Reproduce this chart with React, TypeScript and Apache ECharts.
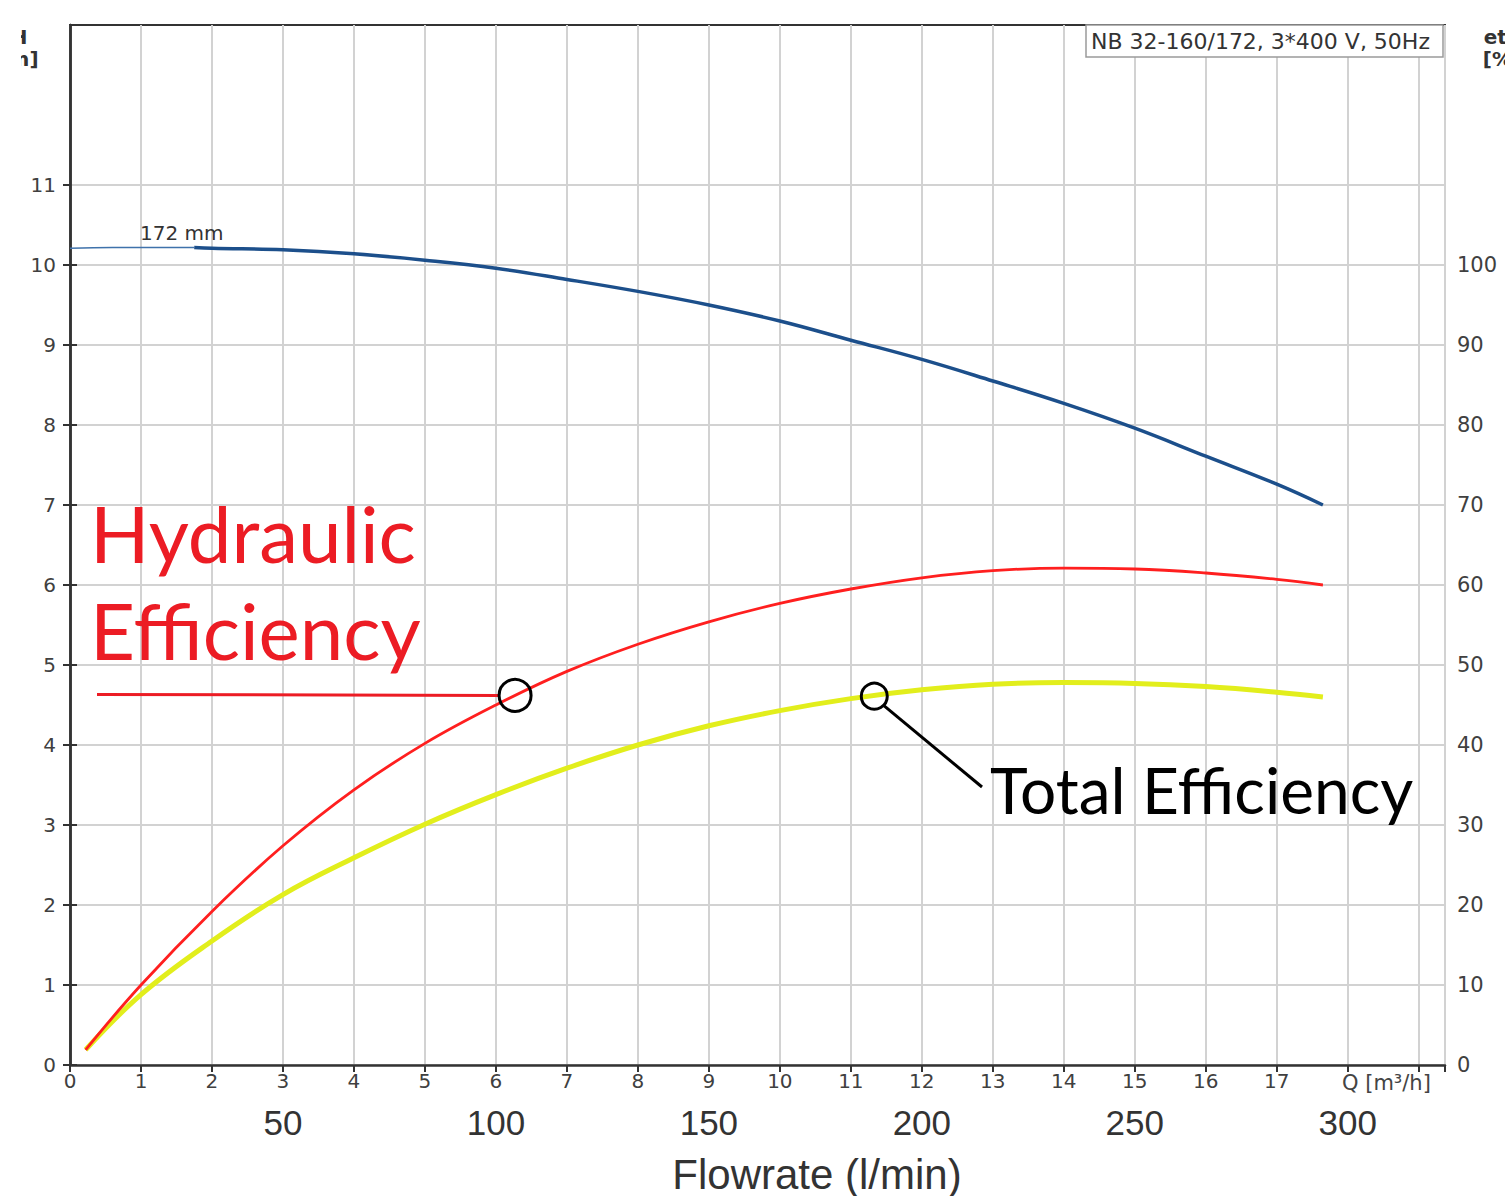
import React, { useEffect, useRef } from "react";
import * as echarts from "echarts";

// ---- data (flow in m³/h) ----
const headFlowThin = [0, 0.6, 1.2, 1.75];
const headThin = [10.21, 10.22, 10.22, 10.22];
const headFlow = [1.75, 2, 3, 4, 5, 6, 7, 8, 9, 10, 11, 12, 13, 14, 15, 16, 17, 17.65];
const headValues = [10.22, 10.21, 10.19, 10.14, 10.06, 9.96, 9.82, 9.67, 9.5, 9.3, 9.06, 8.82, 8.55, 8.27, 7.96, 7.61, 7.26, 7.0];
const effFlow = [0.22, 1, 2, 3, 4, 5, 6, 7, 8, 9, 10, 11, 12, 13, 14, 15, 16, 17, 17.65];
const hydraulicEff = [1.9, 10, 19.2, 27.4, 34.4, 40.2, 45, 49.2, 52.6, 55.4, 57.7, 59.5, 60.9, 61.8, 62.1, 62.0, 61.5, 60.7, 60];
const totalEff = [1.9, 8.8, 15.5, 21.3, 25.9, 30.1, 33.8, 37.1, 40, 42.4, 44.3, 45.8, 46.9, 47.6, 47.8, 47.7, 47.3, 46.6, 46];

const xTickLabels = [0, 1, 2, 3, 4, 5, 6, 7, 8, 9, 10, 11, 12, 13, 14, 15, 16, 17];
const leftTickValues = [0, 1, 2, 3, 4, 5, 6, 7, 8, 9, 10, 11];
const rightTickValues = [0, 10, 20, 30, 40, 50, 60, 70, 80, 90, 100];
const lpmTickValues = [50, 100, 150, 200, 250, 300];

const hydraulicMarker = [6.27, 46.2];
const totalMarker = [11.33, 46.1];

const X_MAX = 19.37;

export default function App() {
  const ref = useRef<HTMLDivElement>(null);
  useEffect(() => {
    const chart = echarts.init(ref.current!, null, { renderer: "svg" });
    const tickFont = { fontFamily: "DejaVu Sans", fontSize: 20, color: "#404040" };
    const axisLineStyle = { color: "#333", width: 2.5 };
    chart.setOption({
      animation: false,
      backgroundColor: "#fff",
      grid: { left: 70, right: 60, top: 25, bottom: 131, show: true, borderColor: "#333", borderWidth: 2, containLabel: false },
      xAxis: [
        {
          type: "value", min: 0, max: X_MAX, interval: 1, position: "bottom",
          axisLine: { show: true, lineStyle: axisLineStyle },
          axisTick: { show: true, length: 7, inside: false, lineStyle: { color: "#333", width: 2 } },
          axisLabel: { ...tickFont, margin: 6, customValues: xTickLabels },
          splitLine: { show: true, lineStyle: { color: "#d2d2d2", width: 2 } },
        },
        {
          type: "value", min: 0, max: X_MAX / 0.06, interval: 50, position: "bottom", offset: 34,
          axisLine: { show: false }, axisTick: { show: false }, splitLine: { show: false },
          axisLabel: { customValues: lpmTickValues, fontFamily: "Liberation Sans", fontSize: 35, color: "#333", margin: 6 },
        },
      ],
      yAxis: [
        {
          type: "value", min: 0, max: 13, interval: 1, position: "left",
          axisLine: { show: true, lineStyle: axisLineStyle },
          axisTick: { show: true, length: 7, customValues: leftTickValues, lineStyle: { color: "#333", width: 2 } },
          axisLabel: { ...tickFont, margin: 14, customValues: leftTickValues },
          splitLine: { show: true, lineStyle: { color: "#d2d2d2", width: 2 } },
        },
        {
          type: "value", min: 0, max: 130, interval: 10, position: "right",
          axisLine: { show: true, lineStyle: axisLineStyle },
          axisTick: { show: true, length: 7, customValues: rightTickValues, lineStyle: { color: "#333", width: 2 } },
          axisLabel: { ...tickFont, fontSize: 21, margin: 12, customValues: rightTickValues },
          splitLine: { show: false },
        },
      ],
      series: [
        {
          type: "line", xAxisIndex: 0, yAxisIndex: 1, smooth: 0.4, showSymbol: false, z: 3,
          data: effFlow.map((x, i) => [x, totalEff[i]]),
          lineStyle: { color: "#e2ee1c", width: 5 },
        },
        {
          type: "line", xAxisIndex: 0, yAxisIndex: 1, smooth: 0.4, showSymbol: false, z: 4,
          data: effFlow.map((x, i) => [x, hydraulicEff[i]]),
          lineStyle: { color: "#ff1f1f", width: 2.8 },
        },
        {
          type: "line", xAxisIndex: 0, yAxisIndex: 0, smooth: 0.4, showSymbol: false, z: 4,
          data: headFlowThin.map((x, i) => [x, headThin[i]]),
          lineStyle: { color: "#3f72ab", width: 1.5 },
        },
        {
          type: "line", xAxisIndex: 0, yAxisIndex: 0, smooth: 0.4, showSymbol: false, z: 4,
          data: headFlow.map((x, i) => [x, headValues[i]]),
          lineStyle: { color: "#1c4f8b", width: 3.5 },
        },
      ],
    });

    const hp = chart.convertToPixel({ xAxisIndex: 0, yAxisIndex: 1 }, hydraulicMarker) as number[];
    const tp = chart.convertToPixel({ xAxisIndex: 0, yAxisIndex: 1 }, totalMarker) as number[];
    const annoFont = "Lato";
    chart.setOption({
      graphic: [
        // clipped axis titles
        { type: "text", x: 19, y: 26, style: { text: "H\n[m]", font: "bold 20px DejaVu Sans", fill: "#333", align: "center", lineHeight: 22 }, z: 10 },
        { type: "rect", shape: { x: 0, y: 0, width: 21, height: 90 }, style: { fill: "#fff" }, z: 11 },
        { type: "text", x: 1502, y: 26, style: { text: "eta\n[%]", font: "bold 20px DejaVu Sans", fill: "#333", align: "center", lineHeight: 22 }, z: 10 },
        // title box
        { type: "rect", shape: { x: 1086, y: 25, width: 357, height: 32 }, style: { fill: "#fff", stroke: "#9a9a9a", lineWidth: 1.5 }, z: 10 },
        { type: "text", x: 1091, y: 41, style: { text: "NB 32-160/172, 3*400 V, 50Hz", font: "22px DejaVu Sans", fill: "#333", verticalAlign: "middle" }, z: 11 },
        { type: "text", x: 140, y: 233, style: { text: "172 mm", font: "20px DejaVu Sans", fill: "#333", verticalAlign: "middle" }, z: 11 },
        { type: "text", x: 1342, y: 1083, style: { text: "Q [m³/h]", font: "21px DejaVu Sans", fill: "#444", verticalAlign: "middle" }, z: 11 },
        { type: "text", x: 817, y: 1174, style: { text: "Flowrate (l/min)", font: "42px Liberation Sans", fill: "#333", align: "center", verticalAlign: "middle" }, z: 11 },
        // annotations
        { type: "text", x: 90, y: 494, style: { text: "Hydraulic", font: `78px ${annoFont}`, fill: "#ec1c24", verticalAlign: "top" }, z: 12 },
        { type: "text", x: 90, y: 591, style: { text: "Efficiency", font: `78px ${annoFont}`, fill: "#ec1c24", verticalAlign: "top" }, z: 12 },
        { type: "line", shape: { x1: 97, y1: hp[1] - 1, x2: hp[0] - 16, y2: hp[1] }, style: { stroke: "#ec1c24", lineWidth: 3 }, z: 12 },
        { type: "circle", shape: { cx: hp[0], cy: hp[1], r: 16 }, style: { fill: "none", stroke: "#000", lineWidth: 3 }, z: 13 },
        { type: "circle", shape: { cx: tp[0], cy: tp[1], r: 13 }, style: { fill: "none", stroke: "#000", lineWidth: 3 }, z: 13 },
        { type: "line", shape: { x1: tp[0] + 9, y1: tp[1] + 9, x2: 982, y2: 787 }, style: { stroke: "#000", lineWidth: 3 }, z: 12 },
        { type: "text", x: 990, y: 757, style: { text: "Total Efficiency", font: `64px ${annoFont}`, fill: "#000", verticalAlign: "top" }, z: 12 },
      ],
    });
    return () => chart.dispose();
  }, []);
  return <div ref={ref} style={{ position: "absolute", left: 0, top: 0, width: 1505, height: 1196 }} />;
}
